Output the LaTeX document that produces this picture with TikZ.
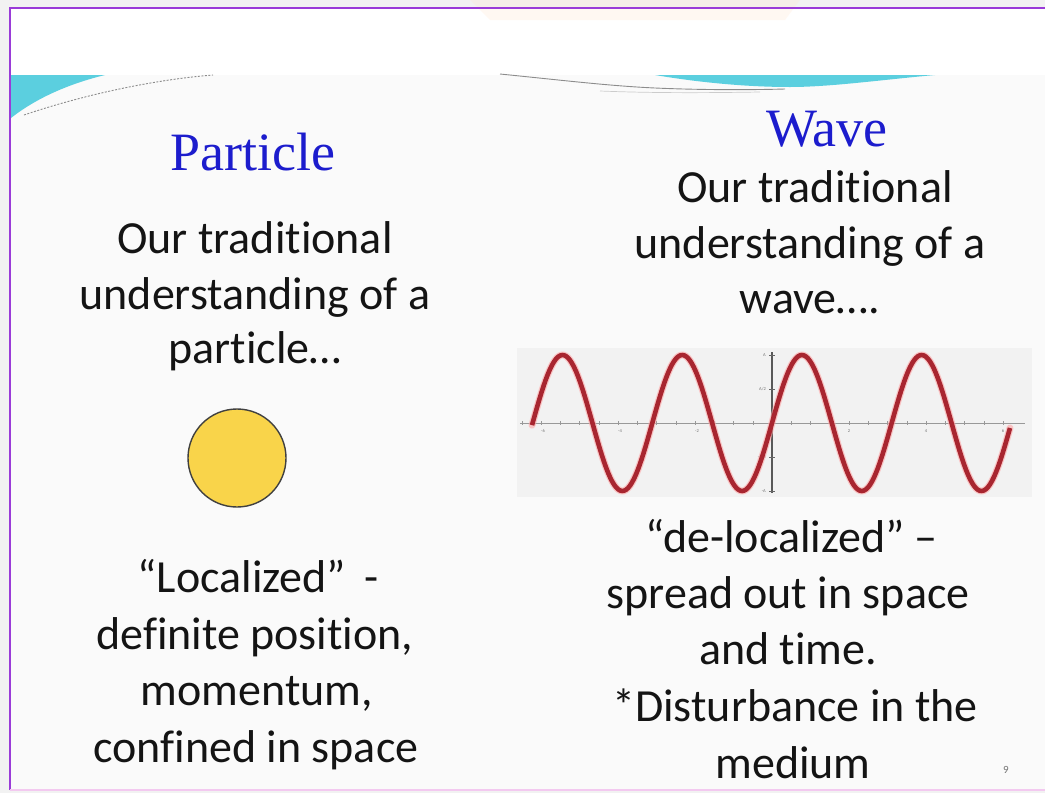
\documentclass[tikz,border=0pt]{standalone}
\usepackage{fontspec}
\setmainfont{Carlito}[Ligatures={NoCommon}]
\newfontfamily\titlefont{Liberation Serif}
\definecolor{outerbg}{HTML}{F2F2F2}
\definecolor{innerbg}{HTML}{FAFAFA}
\definecolor{framepurple}{HTML}{9A3BD8}
\definecolor{framepink}{HTML}{F3C9F0}
\definecolor{cyandeco}{HTML}{5BCFDF}
\definecolor{titleblue}{RGB}{28,28,205}
\definecolor{ballyellow}{RGB}{249,212,74}
\definecolor{wavered}{RGB}{168,38,48}
\definecolor{plotbg}{HTML}{F2F2F2}
\tikzset{
  body/.style={anchor=base, inner sep=0pt, font=\fontsize{46}{56}\selectfont, text=black!92},
  title/.style={anchor=base, inner sep=0pt, font=\titlefont\fontsize{54}{60}\selectfont, text=titleblue},
  tiny/.style={inner sep=0pt, font=\fontsize{4.5}{5}\selectfont, text=black!55},
}
\begin{document}
\begin{tikzpicture}[x=1pt,y=-1pt]
\useasboundingbox (0,0) rectangle (1045,793);
% backgrounds
\fill[outerbg] (0,0) rectangle (1045,793);
\fill[white] (10,8) rectangle (1045,790);
\fill[innerbg] (11,75) rectangle (1045,789);
\fill[orange!20,opacity=0.25] (470,0) -- (800,0) -- (785,20) -- (490,20) -- cycle;
% frame
\draw[framepurple, line width=2.2pt] (10,790) -- (10,8) -- (1045,8);
\draw[framepink, line width=2pt] (10,790) -- (1045,790);
% top decorations
\fill[cyandeco] (11,75) -- (105,75) .. controls (60,86) and (30,103) .. (11,118) -- cycle;
\draw[black!45, line width=0.9pt, dash pattern=on 2pt off 1.5pt] (24,115) .. controls (80,96) and (150,80) .. (213,75);
\fill[cyandeco] (655,75) -- (935,75) .. controls (880,80) and (830,87) .. (790,87) .. controls (740,87) and (690,81) .. cycle;
\draw[black!45, line width=0.9pt] (500,74) .. controls (560,80) and (610,86) .. (655,88) .. controls (700,90) and (750,90) .. (785,89);
\draw[black!20, line width=0.7pt] (600,91) .. controls (650,93) and (700,93) .. (760,92);
% titles
\node[title] (ptitle) at (253,170) {Particle};
\node[title] (wtitle) at (827,146) {Wave};
% left column text
\node[body] (l1) at (255,253) {Our traditional};
\node[body] (l2) at (255,309) {understanding of a};
\node[body] (l3) at (255,363) {particle…};
\node[body] (l4) at (258,592) {“Localized”\, -};
\node[body] (l5) at (255,649) {definite position,};
\node[body] (l6) at (257,705) {momentum,};
\node[body] (l7) at (256,762) {confined in space};
% particle
\node[circle, draw=black!75, line width=1.4pt, fill=ballyellow, minimum size=98pt, inner sep=0pt] (ball) at (237,458) {};
% right column text
\node[body] (r1) at (815,202) {Our traditional};
\node[body] (r2) at (810,258) {understanding of a};
\node[body] (r3) at (810,313) {wave….};
\node[body] (r4) at (792,552) {“de-localized” –};
\node[body] (r5) at (788,608) {spread out in space};
\node[body] (r6) at (788,664) {and time.};
\node[body] (r7) at (795,721) {*Disturbance in the};
\node[body] (r8) at (793,778) {medium};
% wave plot
\fill[plotbg] (517,348) rectangle (1032,497);
\draw[black!40, line width=0.6pt] (520,423) -- (1025,423);
\foreach \k in {-13,...,12} {\draw[black!40, line width=0.5pt] ({772+19.25*\k},421) -- ({772+19.25*\k},425);}
\draw[black!65, line width=1.2pt] (772,352) -- (772,493);
\foreach \k in {355,389,457,491} {\draw[black!60, line width=0.6pt] (769,\k) -- (775,\k);}
\node[tiny] (xm6) at (543,431) {-6};
\node[tiny] (xm4) at (620,431) {-4};
\node[tiny] (xm2) at (697,431) {-2};
\node[tiny] (xp2) at (849,431) {2};
\node[tiny] (xp4) at (926,431) {4};
\node[tiny] (xp6) at (1003,431) {6};
\node[tiny, anchor=east] (ya) at (766,355) {A};
\node[tiny, anchor=east] (yh) at (766,389) {A/2};
\node[tiny, anchor=east] (ymh) at (766,457) {-A/2};
\node[tiny, anchor=east] (yma) at (766,491) {-A};
\draw[red!35, line width=7pt, line join=round, line cap=round, opacity=0.6] plot[domain=-240:238, samples=240] ({772+\x}, {423-68*sin(3.0075*\x)});
\draw[wavered, line width=4.6pt, line join=round] plot[domain=-240:238, samples=240] ({772+\x}, {423-68*sin(3.0075*\x)});
% page number
\node[inner sep=0pt, font=\fontsize{11}{12}\selectfont, text=black!55] (pnum) at (1006,770) {9};
\end{tikzpicture}
\end{document}
